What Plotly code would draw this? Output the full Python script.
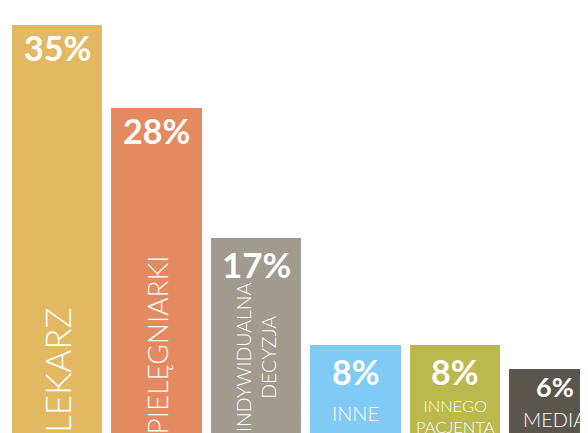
import plotly.graph_objects as go

# ---- data ----
categories = ["LEKARZ", "PIELĘGNIARKI", "INDYWIDUALNA<br>DECYZJA", "INNE", "INNEGO<br>PACJENTA", "MEDIA"]
values = [35, 28, 17, 8, 8, 6]
value_labels = ["35%", "28%", "17%", "8%", "8%", "6%"]

# ---- style ----
colors = ["#E3B862", "#E48A61", "#A19A8E", "#80CBF6", "#BBB84D", "#5B564D"]
W, H = 588, 433
OFF = 8  # page body margin
pct_sizes = [34, 34, 35, 34, 34, 27]
pct_offsets = [-23, -23, -26, -27, -27, -18]
# label style: (angle, font size, screen-y centre)
label_style = [(-90, 35, 371), (-90, 28, 345), (-90, 19.5, 357), (0, 20, 412.5), (0, 16.5, 416), (0, 20, 418.5)]

x = list(range(len(values)))
fig = go.Figure(go.Bar(x=x, y=values, marker=dict(color=colors, line=dict(width=0)),
                       width=0.905, hoverinfo="skip"))

ann = []
for i, (v, t) in enumerate(zip(values, value_labels)):
    ann.append(dict(x=i, y=v, xref="x", yref="y", text=t, showarrow=False,
                    yshift=pct_offsets[i], yanchor="middle", xanchor="center",
                    font=dict(family="Lato", size=pct_sizes[i], color="white", weight=700)))
    ang, fs, py = label_style[i]
    ann.append(dict(x=i, y=1 - (py - OFF) / H, xref="x", yref="paper", text=categories[i], showarrow=False,
                    textangle=ang, yanchor="middle", xanchor="center", align="center",
                    font=dict(family="Lato", size=fs, color="white", weight=300)))

s = 11.86  # px per %
b = 439.8 - OFF
x0 = 57 - OFF
pitch = 99.5
fig.update_layout(
    width=W, height=H, margin=dict(l=0, r=0, t=0, b=0),
    paper_bgcolor="white", plot_bgcolor="white",
    xaxis=dict(range=[-x0 / pitch, (W - x0) / pitch], visible=False, fixedrange=True),
    yaxis=dict(range=[(b - H) / s, b / s], visible=False, fixedrange=True),
    annotations=ann, showlegend=False, bargap=0,
)
fig.write_html("out.html", config={"displayModeBar": False})
